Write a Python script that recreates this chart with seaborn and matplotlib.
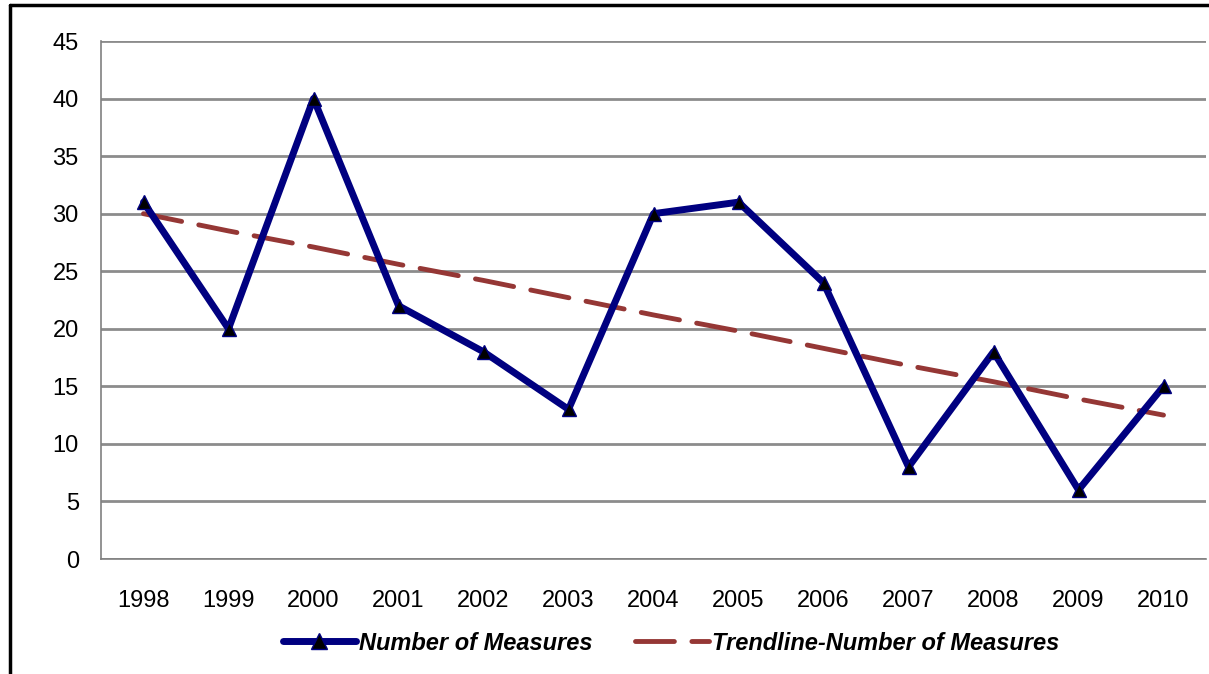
import numpy as np
import pandas as pd
import matplotlib
matplotlib.use("Agg")
import matplotlib.pyplot as plt
from matplotlib.lines import Line2D
import seaborn as sns

# chart data
years = ["1998", "1999", "2000", "2001", "2002", "2003", "2004",
         "2005", "2006", "2007", "2008", "2009", "2010"]
measures = [31, 20, 40, 22, 18, 13, 30, 31, 24, 8, 18, 6, 15]
trend = [30.0, 28.5, 27.1, 25.6, 24.2, 22.7, 21.2, 19.8, 18.3, 16.8, 15.4, 13.9, 12.5]

df = pd.DataFrame({"year": years, "measures": measures, "trend": trend})

sns.set_style("white")
plt.rcParams["font.family"] = ["Liberation Sans", "DejaVu Sans"]
plt.rcParams["text.color"] = "black"
plt.rcParams["xtick.color"] = "black"
plt.rcParams["ytick.color"] = "black"

W, H = 1209, 674
fig = plt.figure(figsize=(W / 100, H / 100), dpi=100)
ax = fig.add_axes([101 / W, 1 - 559 / H, (1206 - 101) / W, (559 - 41) / H])

trend_color = "#953735"
line_color = "#000080"
dash = [8, 3.6]

sns.lineplot(data=df, x="year", y="trend", ax=ax, color=trend_color,
             linewidth=3.5, zorder=2)
ax.lines[-1].set_dashes(dash)
ax.lines[-1].set_dash_capstyle("round")
sns.lineplot(data=df, x="year", y="measures", ax=ax, color=line_color,
             linewidth=5, marker="^", markersize=10,
             markerfacecolor="black", markeredgecolor=line_color,
             markeredgewidth=1, zorder=3)

ax.set_xlim(-0.5, len(years) - 0.5)
ax.set_ylim(0, 45)
ax.set_yticks(np.arange(0, 46, 5))
ax.set_xticks(range(len(years)))
ax.set_xticklabels(years)
ax.set_xticks(np.arange(-0.5, len(years), 1), minor=True)
ax.tick_params(axis="x", which="major", length=0, pad=22, labelsize=17, labelcolor="black")
ax.tick_params(axis="x", which="minor", length=6, width=1, color="#808080", direction="out")
ax.tick_params(axis="y", length=6, width=1, color="#404040", direction="out", pad=10,
               labelsize=17, labelcolor="black")
ax.set_xlabel("")
ax.set_ylabel("")

ax.yaxis.grid(True, color="#8c8c8c", linewidth=2)
ax.set_axisbelow(True)
for s in ["top", "right"]:
    ax.spines[s].set_visible(False)
for s in ["left", "bottom"]:
    ax.spines[s].set_color("#808080")
    ax.spines[s].set_linewidth(1.2)

trend_handle = Line2D([], [], color=trend_color, linewidth=3.5, dashes=dash)
trend_handle.set_dash_capstyle("round")
handles = [
    Line2D([], [], color=line_color, linewidth=5, marker="^", markersize=11,
           markerfacecolor="black", markeredgecolor=line_color, solid_capstyle="round"),
    trend_handle,
]
fig.legend(handles, ["Number of Measures", "Trendline-Number of Measures"],
           loc="center", bbox_to_anchor=(0.555, 1 - 643 / H), ncol=2,
           frameon=False, handlelength=3.1, columnspacing=1.8, handletextpad=0.15,
           prop={"weight": "bold", "style": "italic", "size": 17})

# outer frame of the original figure
fig.add_artist(Line2D([10 / W, 1], [1 - 5 / H, 1 - 5 / H], color="black",
                      linewidth=2.5, transform=fig.transFigure))
fig.add_artist(Line2D([10 / W, 10 / W], [0, 1 - 5 / H], color="black",
                      linewidth=2.5, transform=fig.transFigure))

fig.savefig("out.png", dpi=100)
